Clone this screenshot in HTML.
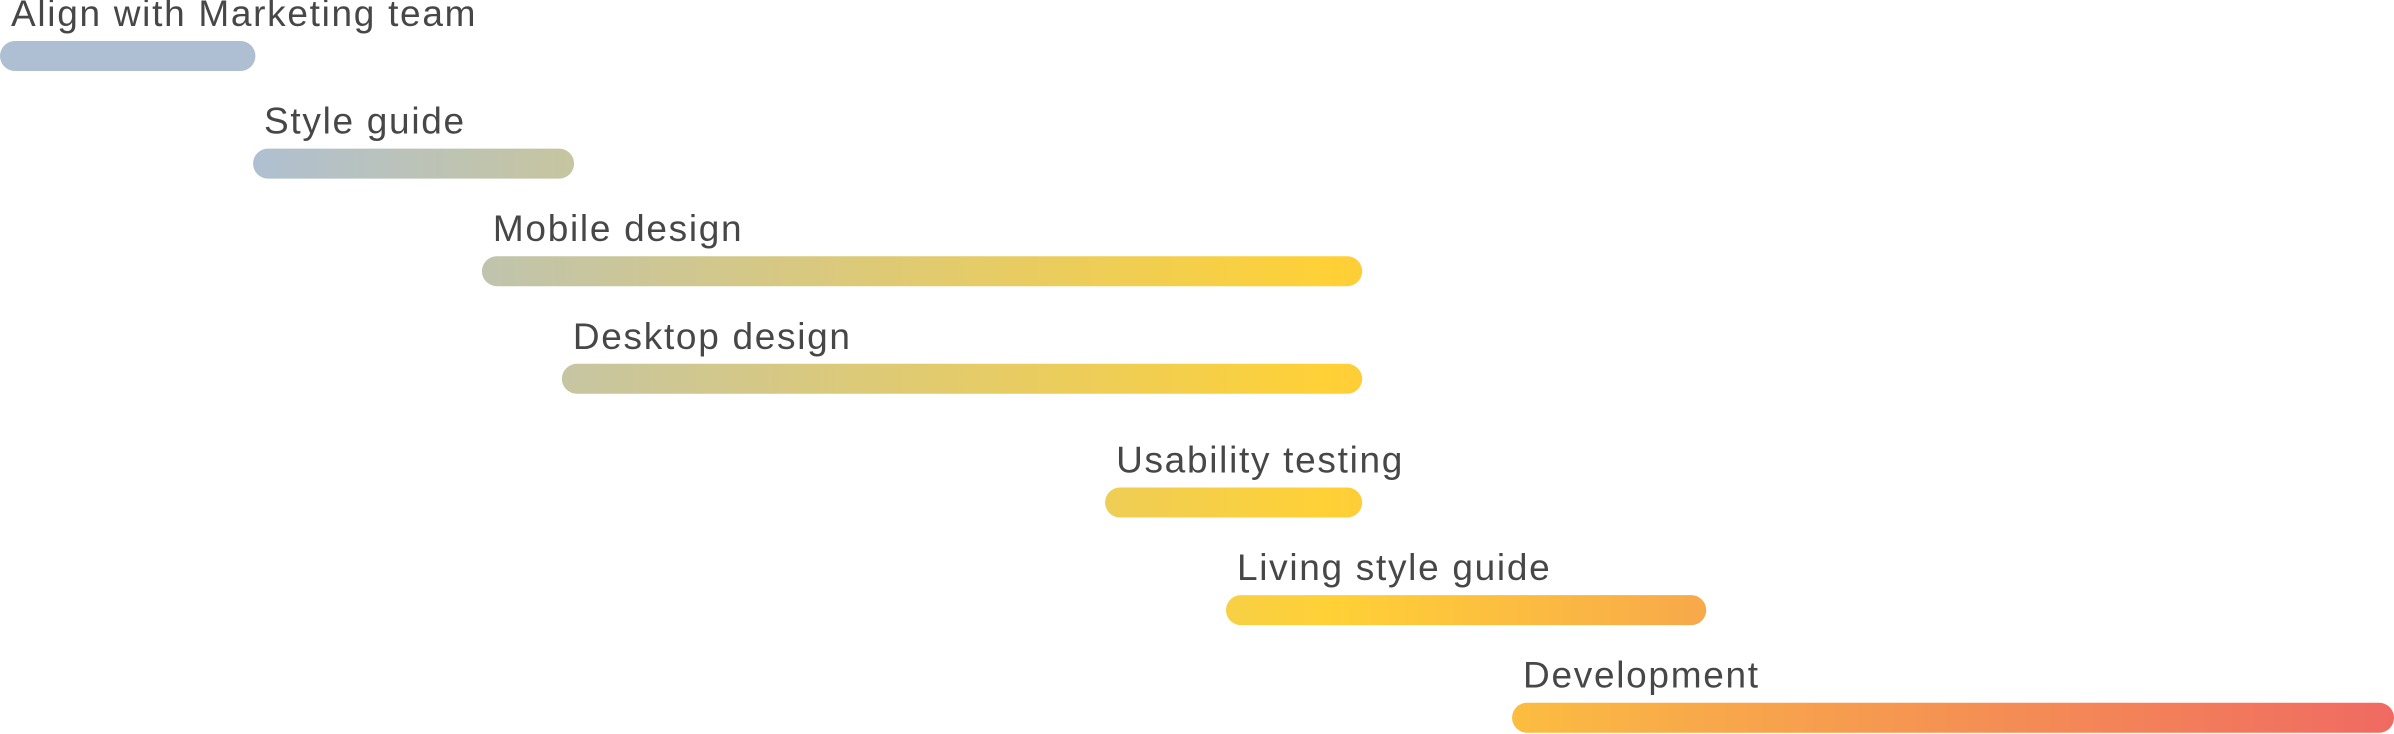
<!DOCTYPE html>
<html><head><meta charset="utf-8"><style>
html,body{margin:0;padding:0;background:#fff;}
svg{display:block;}
text{font-family:"Liberation Sans",sans-serif;font-size:37px;fill:#474747;letter-spacing:1.7px;}
</style></head>
<body>
<svg id="chart" width="2394" height="734" viewBox="0 0 2394 734" xmlns="http://www.w3.org/2000/svg">
<defs>
<linearGradient id="grad" gradientUnits="userSpaceOnUse" x1="0" y1="0" x2="2394" y2="0">
<stop offset="0" stop-color="#aebfd3"/>
<stop offset="0.1" stop-color="#aebfd3"/>
<stop offset="0.2" stop-color="#c0c4ae"/>
<stop offset="0.555" stop-color="#ffd136"/>
<stop offset="0.71" stop-color="#f8a94a"/>
<stop offset="1" stop-color="#f06a62"/>
</linearGradient>
</defs>
<g id="bars"></g>
</svg>
<script>
const tasks = ["Align with Marketing team","Style guide","Mobile design","Desktop design","Usability testing","Living style guide","Development"];
const starts = [0, 10.57, 20.13, 23.47, 46.16, 51.21, 63.16];
const ends = [10.67, 23.98, 56.9, 56.9, 56.9, 71.27, 100];
const lanes = [0, 1, 2, 3, 4.15, 5.15, 6.15];

const W = 2394;
function xScale(v){ return v / 100 * W; }
function yScale(l){ return 41 + l * 107.6; }
const barH = 30;
const ns = "http://www.w3.org/2000/svg";
const g = document.getElementById("bars");
tasks.forEach((t, i) => {
  const x0 = xScale(starts[i]), x1 = xScale(ends[i]), y = yScale(lanes[i]);
  const grp = document.createElementNS(ns, "g");
  
  
  const r = document.createElementNS(ns, "rect");
  r.setAttribute("x", x0); r.setAttribute("y", y);
  r.setAttribute("width", Math.max(0, x1 - x0)); r.setAttribute("height", barH);
  r.setAttribute("rx", barH / 2); r.setAttribute("fill", "url(#grad)");
  
  
  const tx = document.createElementNS(ns, "text");
  tx.setAttribute("x", x0 + 11); tx.setAttribute("y", y - 15);
  tx.textContent = t;
  
  
  grp.appendChild(tx); grp.appendChild(r);
  g.appendChild(grp);
});
</script>
</body></html>
